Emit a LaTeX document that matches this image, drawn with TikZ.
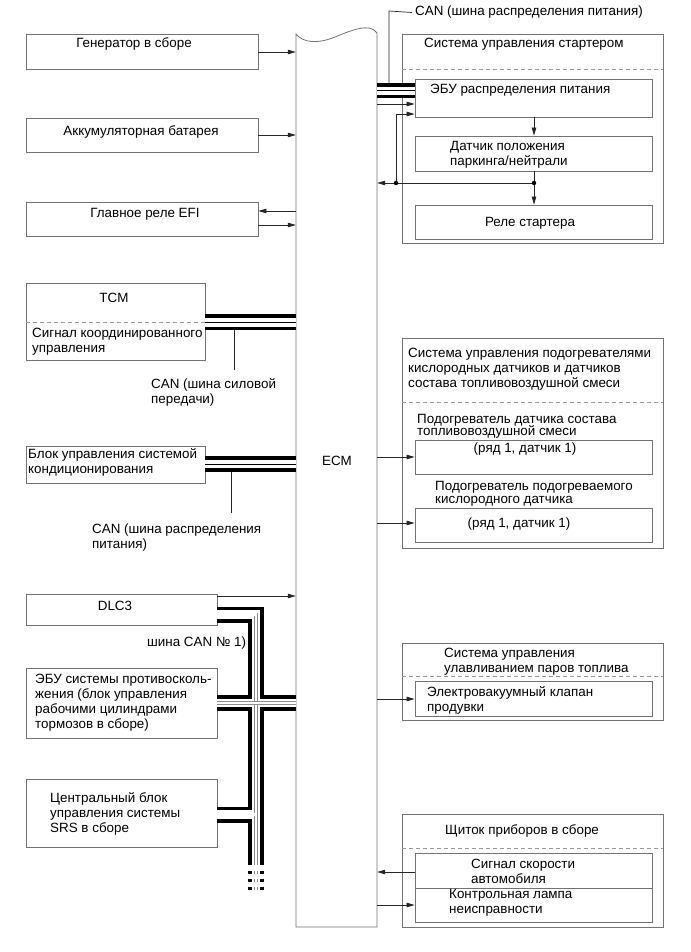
\documentclass[tikz,border=0pt]{standalone}
\usepackage{fontspec}
\setmainfont{Liberation Sans}
\usetikzlibrary{arrows.meta,fit}
\newcommand{\fsz}{\fontsize{13.4}{15}\selectfont}
\begin{document}
\begin{tikzpicture}[x=1pt,y=-1pt,
  box/.style={draw=black!55, line width=0.8pt, inner sep=0pt, fit={#1}},
  holder/.style={inner sep=0pt, fit={#1}},
  lbl/.style={inner sep=0pt, font=\fsz, align=left, yshift=-1.5pt},
  sepline/.style={draw=black!40, line width=0.8pt, dash pattern=on 4pt off 3pt},
  arr/.style={-{Triangle[length=8pt,width=4.5pt]}, line width=0.7pt, black!85},
  conn/.style={line width=0.7pt, black!85},
  busblack/.style={line width=16pt, black},
  buswhite/.style={line width=8.5pt, white},
  busthin/.style={line width=0.7pt, black},
  busdouble/.style={line width=0.6pt, black!45, double=white, double distance=2.4pt},
  ecmline/.style={draw=black!55, line width=0.8pt}
]
\useasboundingbox (0,0) rectangle (690,952);

% ECM
\node[holder={(296,34) (377,927)}] (ecm) {};
\draw[ecmline] (377,33) -- (377,927) -- (296,927) -- (296,34)
  .. controls (303,43) and (318,44) .. (335,37)
  .. controls (350,31) and (370,22) .. (377,33);
\node[lbl, anchor=center] (ecmt) at (337,461) {\strut ECM};

% Left boxes
\node[box={(26,34) (258,69)}] (gen) {};
\node[lbl, anchor=center] (gent) at (134,43) {\strut Генератор в сборе};
\node[box={(26,118) (258,152)}] (akk) {};
\node[lbl, anchor=center] (akkt) at (141,131) {\strut Аккумуляторная батарея};
\node[box={(26,202) (258,236)}] (efi) {};
\node[lbl, anchor=center] (efit) at (145,213) {\strut Главное реле EFI};

\node[box={(26,283) (205,360)}] (tcm) {};
\node[lbl, anchor=center] (tcmt) at (114,298) {\strut TCM};
\draw[sepline] (tcm.west |- 0,322) -- (tcm.east |- 0,322);
\node[lbl, anchor=north west] (tcms) at (32,325.5) {\strut Сигнал координированного\\управления};

\node[box={(26,446) (205,483)}] (ac) {};
\node[lbl, anchor=north west] (act) at (28,446.5) {\strut Блок управления системой\\кондиционирования};

\node[box={(26,594) (217,625)}] (dlc) {};
\node[lbl, anchor=center] (dlct) at (115,606) {\strut DLC3};
\node[lbl, anchor=west] (can1) at (147,642) {\strut шина CAN № 1)};

\node[box={(26,668) (217,738)}] (abs) {};
\node[lbl, anchor=north west] (abst) at (35,671.5) {\strut ЭБУ системы противосколь-\\жения (блок управления\\рабочими цилиндрами\\тормозов в сборе)};

\node[box={(26,779) (217,847)}] (srs) {};
\node[lbl, anchor=north west] (srst) at (50,790.5) {\strut Центральный блок\\управления системы\\SRS в сборе};

% CAN labels left
\node[lbl, anchor=north west] (cantcm) at (151,376.5) {\strut CAN (шина силовой\\передачи)};
\node[lbl, anchor=north west] (canac) at (92,521.5) {\strut CAN (шина распределения\\питания)};
\draw[conn] (234,330) -- (234,370);
\draw[conn] (231,471) -- (231,513);

% Starter system
\node[box={(402,34) (663,243)}] (st) {};
\node[lbl, anchor=west] (stt) at (424,43) {\strut Система управления стартером};
\draw[sepline] (st.west |- 0,69) -- (st.east |- 0,69);
\node[box={(415,79) (652,117)}] (ebu) {};
\node[lbl, anchor=west] (ebut) at (430,89) {\strut ЭБУ распределения питания};
\node[box={(415,136) (652,171)}] (pn) {};
\node[lbl, anchor=north west] (pnt) at (450,138.5) {\strut Датчик положения\\паркинга/нейтрали};
\node[box={(415,205) (652,239)}] (rel) {};
\node[lbl, anchor=center] (relt) at (530,222) {\strut Реле стартера};
\node[lbl, anchor=west] (cantop) at (415,11) {\strut CAN (шина распределения питания)};

% O2 heater system
\node[box={(402,338) (663,548)}] (o2) {};
\node[lbl, anchor=north west] (o2t) at (408,345.5) {\strut Система управления подогревателями\\кислородных датчиков и датчиков\\состава топливовоздушной смеси};
\draw[sepline] (o2.west |- 0,402) -- (o2.east |- 0,402);
\node[lbl, anchor=north west] (o2at) at (417,411.5) {\strut Подогреватель датчика состава\\[-3pt]топливовоздушной смеси};
\node[box={(415,440) (652,474)}] (o2a) {};
\node[lbl, anchor=center] (o2ai) at (525,448) {\strut (ряд 1, датчик 1)};
\node[lbl, anchor=north west] (o2bt) at (435,478.5) {\strut Подогреватель подогреваемого\\[-2pt]кислородного датчика};
\node[box={(415,508) (652,542)}] (o2b) {};
\node[lbl, anchor=center] (o2bi) at (519,523) {\strut (ряд 1, датчик 1)};

% EVAP
\node[box={(402,643) (663,720)}] (ev) {};
\node[lbl, anchor=north west] (evt) at (444,645.5) {\strut Система управления\\улавливанием паров топлива};
\draw[sepline] (ev.west |- 0,676) -- (ev.east |- 0,676);
\node[box={(415,681) (652,716)}] (evv) {};
\node[lbl, anchor=north west] (evvt) at (427,684.5) {\strut Электровакуумный клапан\\продувки};

% Instrument panel
\node[box={(402,814) (663,927)}] (ip) {};
\node[lbl, anchor=west] (ipt) at (445,830) {\strut Щиток приборов в сборе};
\draw[sepline] (ip.west |- 0,848) -- (ip.east |- 0,848);
\node[box={(415,853) (652,888)}] (spd) {};
\node[lbl, anchor=north west] (spdt) at (471,856.5) {\strut Сигнал скорости\\автомобиля};
\node[box={(415,888) (652,922)}] (mil) {};
\node[lbl, anchor=north west] (milt) at (449,886.5) {\strut Контрольная лампа\\неисправности};

% Arrows
\draw[arr] (gen.east |- 0,52) -- (ecm.west |- 0,52);
\draw[arr] (akk.east |- 0,135) -- (ecm.west |- 0,135);
\draw[arr] (ecm.west |- 0,211) -- (efi.east |- 0,211);
\draw[arr] (efi.east |- 0,225) -- (ecm.west |- 0,225);
\draw[arr] (ecm.east |- 0,104) -- (ebu.west |- 0,104);
\coordinate (d1) at (396,183);
\coordinate (d2) at (534,183);
\draw[arr] (d1) |- (ebu.west |- 0,114);
\draw[arr] (ebu.south -| d2) -- (pn.north -| d2);
\draw[arr] (pn.south -| d2) -- (rel.north -| d2);
\draw[arr] (d2) -- (ecm.east |- d2);
\fill (d1) circle (2.2pt);
\fill (d2) circle (2.2pt);
\draw[arr] (ecm.east |- 0,457) -- (o2a.west |- 0,457);
\draw[arr] (ecm.east |- 0,523) -- (o2b.west |- 0,523);
\draw[arr] (dlc.east |- 0,596) -- (ecm.west |- 0,596);
\draw[arr] (ecm.east |- 0,699) -- (evv.west |- 0,699);
\draw[arr] (spd.west |- 0,872) -- (ecm.east |- 0,872);
\draw[arr] (ecm.east |- 0,905) -- (mil.west |- 0,905);

% Top CAN bus
\draw[conn] (389,84) -- (389,11) -- ([xshift=-3pt]cantop.west);
\draw[busblack, line width=15pt] (ecm.east |- 0,90.8) -- (ebu.west |- 0,90.8);
\draw[buswhite, line width=8pt] (ecm.east |- 0,90.8) -- (ebu.west |- 0,90.8);
\draw[busthin] (ecm.east |- 0,90.8) -- (ebu.west |- 0,90.8);

% TCM bus
\draw[busblack] (tcm.east |- 0,322.3) -- (ecm.west |- 0,322.3);
\draw[buswhite] (tcm.east |- 0,322.3) -- (ecm.west |- 0,322.3);
\draw[busthin] (tcm.east |- 0,322.3) -- (ecm.west |- 0,322.3);

% A/C bus
\draw[busblack] (ac.east |- 0,464) -- (ecm.west |- 0,464);
\draw[buswhite] (ac.east |- 0,464) -- (ecm.west |- 0,464);
\draw[busthin] (ac.east |- 0,464) -- (ecm.west |- 0,464);

% CAN No.1 bus
\coordinate (tk) at (256,614.5);
\coordinate (tkend) at (256,865);
\coordinate (dsA) at (256,870.5);
\coordinate (dsB) at (256,891);
\draw[busblack, line join=miter] (dlc.east |- tk) -- (tk) -- (tkend);
\draw[busblack] (abs.east |- 0,703) -- (ecm.west |- 0,703);
\draw[busblack] (srs.east |- 0,814.5) -- (tk |- 0,814.5);
\draw[busblack, dash pattern=on 3.7pt off 4.3pt] (dsA) -- (dsB);
\draw[buswhite, line join=miter] (dlc.east |- tk) -- (tk) -- (tkend);
\draw[buswhite] (abs.east |- 0,703) -- (ecm.west |- 0,703);
\draw[buswhite] (srs.east |- 0,814.5) -- (tk |- 0,814.5);
\draw[buswhite] (dsA) -- (dsB);
\draw[busdouble, line join=miter] (dlc.east |- tk) -- (tk) -- (tkend);
\draw[busdouble] (abs.east |- 0,703) -- (ecm.west |- 0,703);
\draw[busdouble] (srs.east |- 0,814.5) -- (tk |- 0,814.5);
\draw[busdouble, dash pattern=on 3.7pt off 4.3pt] (dsA) -- (dsB);
\end{tikzpicture}
\end{document}
